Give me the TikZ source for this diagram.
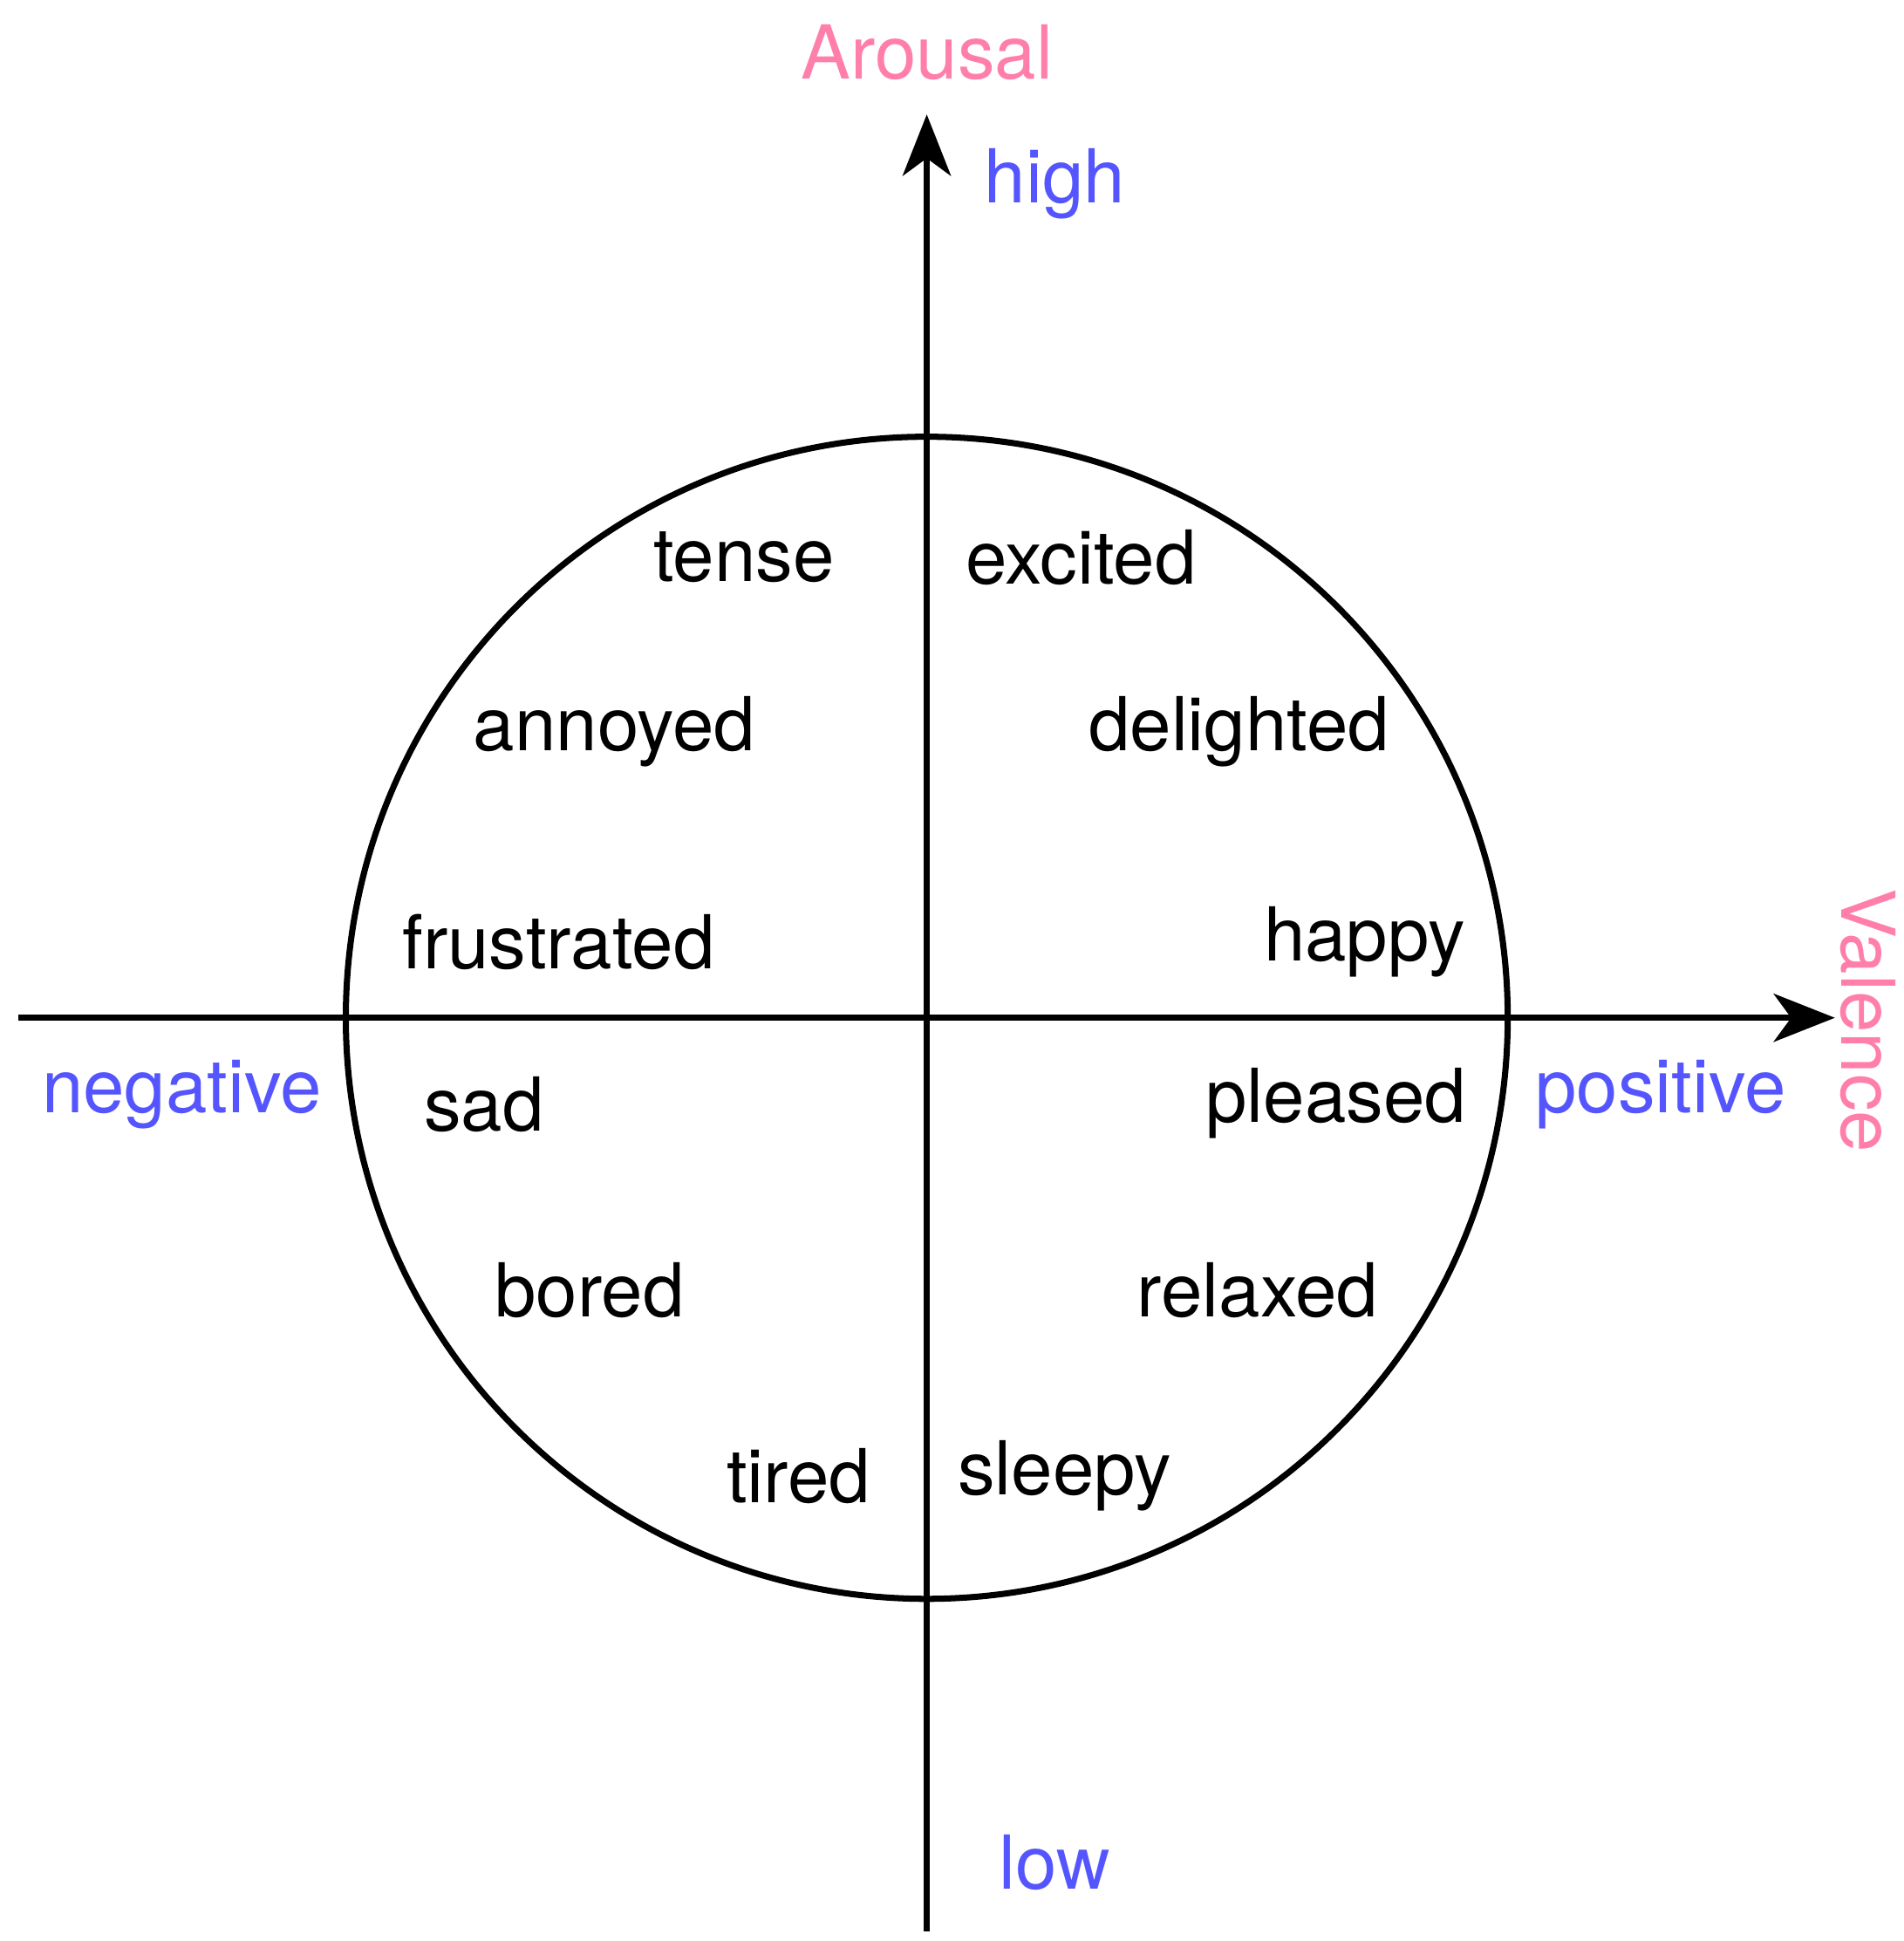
\documentclass[tikz,border=0pt]{standalone}
\usepackage{fontspec}
\setmainfont{TeX Gyre Heros}
\usetikzlibrary{arrows.meta}
\definecolor{pk}{HTML}{FF7FAA}
\definecolor{bl}{HTML}{5555FF}
\begin{document}
\begin{tikzpicture}[x=0.01cm,y=-0.01cm,
  w/.style={font=\fontsize{17}{20}\selectfont},
  b/.style={w,text=bl},
  p/.style={w,text=pk},
  ax/.style={line width=1.4pt,-{Stealth[length=14pt,width=11pt,inset=4pt]}}]
\useasboundingbox (0,0) rectangle (1530,1560);
\coordinate (c) at (745,818);
\draw[line width=1.4pt] (c) circle[radius=467];
\coordinate (l) at (15,818); \coordinate (r) at (1475,818);
\coordinate (bt) at (745,1552); \coordinate (tp) at (745,92);
\draw[ax] (l) -- (r);
\draw[ax] (bt) -- (tp);
\node[p] (ar) at (745,42) {Arousal};
\node[p,rotate=-90] (va) at (1502,820) {Valence};
\node[b] (hi) at (848,148) {high};
\node[b] (lo) at (848,1497) {low};
\node[b] (ng) at (146,880) {negative};
\node[b] (ps) at (1335,880) {positive};
\node[w] (t1) at (598,448) {tense};
\node[w] (t2) at (869,448) {excited};
\node[w] (t3) at (494,588) {annoyed};
\node[w] (t4) at (996,588) {delighted};
\node[w] (t5) at (449,757) {frustrated};
\node[w] (t6) at (1097,757) {happy};
\node[w] (t7) at (389,888) {sad};
\node[w] (t8) at (1074,887) {pleased};
\node[w] (t9) at (474,1037) {bored};
\node[w] (t10) at (1011,1037) {relaxed};
\node[w] (t11) at (642,1186) {tired};
\node[w] (t12) at (856,1186) {sleepy};
\end{tikzpicture}
\end{document}
